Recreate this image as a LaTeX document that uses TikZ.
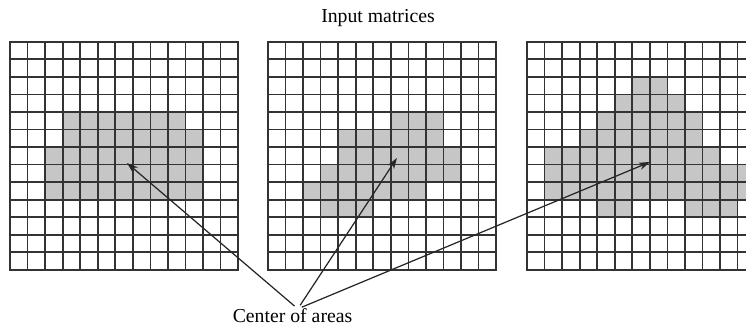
\documentclass[tikz,border=0pt]{standalone}
\usepackage{fontspec}
\setmainfont{Liberation Serif}
\usetikzlibrary{arrows.meta,positioning,calc}
\definecolor{areagray}{HTML}{C6C6C6}
\definecolor{gridink}{HTML}{333333}

\begin{document}
\begin{tikzpicture}[x=0.5cm,y=0.5cm,
  gridlines/.style={draw=gridink,line width=1.4pt,line cap=rect},
  area/.style={fill=areagray},
  pointer/.style={-{Stealth[length=9pt,width=6pt]},line width=1pt,black!85,shorten <=3.5pt},
  txt/.style={font=\fontsize{16}{19}\selectfont}]
  \clip (0,0) rectangle (42.51,18.58);
  % First matrix
  \begin{scope}[shift={(0.57,3.2)}]
    \foreach \r/\a/\b in {4/3/9, 5/3/10, 6/2/10, 7/2/10, 8/2/10} {
      \fill[area] (\a,12-\r) rectangle (\b+1,13-\r);
    }
    \foreach \i in {0,...,13} {
      \draw[gridlines] (\i,0) -- (\i,13) (0,\i) -- (13,\i);
    }
    \coordinate (c1) at (6.67,6.09);
  \end{scope}
  % Second matrix
  \begin{scope}[shift={(15.27,3.2)}]
    \foreach \r/\a/\b in {4/7/9, 5/4/9, 6/4/10, 7/3/10, 8/2/8, 9/3/5} {
      \fill[area] (\a,12-\r) rectangle (\b+1,13-\r);
    }
    \foreach \i in {0,...,13} {
      \draw[gridlines] (\i,0) -- (\i,13) (0,\i) -- (13,\i);
    }
    \coordinate (c2) at (7.35,6.38);
  \end{scope}
  % Third matrix (runs off the right edge)
  \begin{scope}[shift={(30.03,3.2)}]
    \foreach \r/\a/\b in {2/6/7, 3/5/8, 4/4/9, 5/3/9, 6/1/10, 7/1/12,
      8/1/12, 9/4/5, 9/9/11} {
      \fill[area] (\a,12-\r) rectangle (\b+1,13-\r);
    }
    \foreach \i in {0,...,13} {
      \draw[gridlines] (\i,0) -- (\i,13) (0,\i) -- (13,\i);
    }
    \coordinate (c3) at (7.01,6.15);
  \end{scope}
  % Labels
  \node[txt] (title) at (21.54,17.55) {Input matrices};
  \node[txt] (lbl) at (16.67,0.57) {Center of areas};
  \coordinate (hub) at ([shift={(0.15cm,-0.12cm)}]lbl.north);
  % Pointers to the centres
  \foreach \c in {c1,c2,c3} {
    \draw[pointer] (hub) -- (\c);
  }
\end{tikzpicture}
\end{document}
